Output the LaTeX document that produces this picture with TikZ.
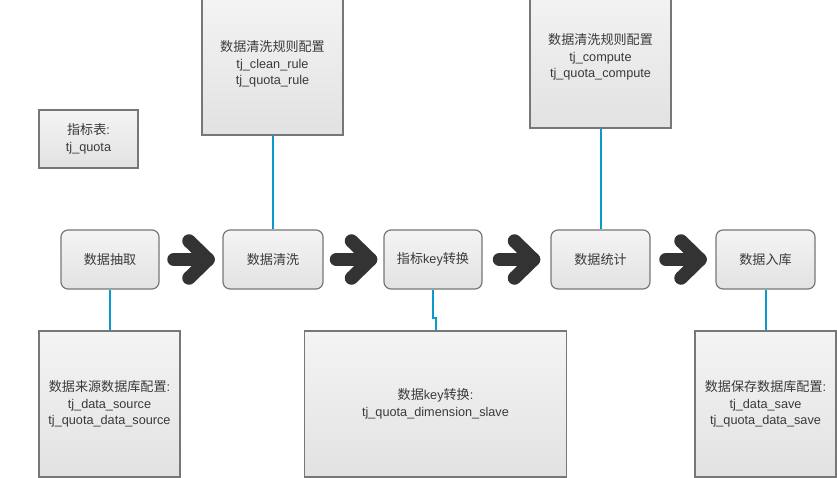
\documentclass[tikz,border=0pt]{standalone}
\usepackage{fontspec}
\setmainfont{Liberation Sans}
\newfontfamily\cjk{Noto Sans CJK SC}[Scale=1.03]
\usetikzlibrary{calc}
\definecolor{txt}{HTML}{3A3A3A}
\definecolor{edgegray}{HTML}{777777}
\definecolor{boxtop}{HTML}{F4F4F4}
\definecolor{boxbot}{HTML}{E2E2E2}
\definecolor{linkblue}{HTML}{0A9AD0}
\definecolor{arrowgray}{HTML}{333333}
\newcommand\zh[1]{{\cjk #1}}
% thick chevron arrow centred in the gap between two stages
\newcommand\flowarrow[2]{%
  \coordinate (m) at ($(#1.east)!0.5!(#2.west)$);
  \draw[fat] ([xshift=-17pt]m) -- ([xshift=17pt]m);
  \draw[fat] ([shift={(-2,-18.5)}]m) -- ([xshift=17pt]m) -- ([shift={(-2,18.5)}]m);
}

\begin{document}
\begin{tikzpicture}[x=1pt,y=-1pt,
  box/.style={draw=edgegray, line width=1.2pt, top color=boxtop, bottom color=boxbot,
    text=txt, align=center, inner sep=0pt, font=\fontsize{12.7}{16.5}\selectfont},
  stage/.style={box, rounded corners=7pt, minimum height=59pt},
  link/.style={draw=linkblue, line width=2pt},
  fat/.style={draw=arrowgray, line width=13.5pt, line cap=round, line join=round}]

\useasboundingbox (0,0) rectangle (837,478);
\clip (0,0) rectangle (837,478);

% pipeline stages
\node[stage, minimum width=98pt]  (extract) at (110,259.5)   {\zh{数据抽取}};
\node[stage, minimum width=100pt] (clean)   at (273,259.5)   {\zh{数据清洗}};
\node[stage, minimum width=98pt]  (keyconv) at (433,259.5)   {\zh{指标}key\zh{转换}};
\node[stage, minimum width=99pt]  (stat)    at (600.5,259.5) {\zh{数据统计}};
\node[stage, minimum width=99pt]  (store)   at (765.5,259.5) {\zh{数据入库}};

% configuration tables
\node[box, minimum width=99pt, minimum height=58pt] (quota) at (88.5,139)
  {\zh{指标表}:\\tj\_quota};
\node[box, minimum width=141pt, minimum height=142pt] (cleancfg) at (272.5,64)
  {\zh{数据清洗规则配置}\\tj\_clean\_rule\\tj\_quota\_rule};
\node[box, minimum width=141pt, minimum height=142pt] (computecfg) at (600.5,57)
  {\zh{数据清洗规则配置}\\tj\_compute\\tj\_quota\_compute};
\node[box, minimum width=141pt, minimum height=146pt] (sourcecfg) at (109.5,404)
  {\zh{数据来源数据库配置}:\\tj\_data\_source\\tj\_quota\_data\_source};
\node[box, minimum width=262pt, minimum height=146pt] (keydoc) at (435.5,404)
  {\zh{数据}key\zh{转换}:\\tj\_quota\_dimension\_slave};
\node[box, minimum width=141pt, minimum height=146pt] (savecfg) at (765.5,404)
  {\zh{数据保存数据库配置}:\\tj\_data\_save\\tj\_quota\_data\_save};

% links to configuration
\coordinate (jog) at (0,318);
\draw[link] (extract.south) -- (extract.south |- sourcecfg.north);
\draw[link] (clean.north) -- (clean.north |- cleancfg.south);
\draw[link] (keyconv.south) |- (jog -| keydoc.north) -- (keydoc.north);
\draw[link] (stat.north) -- (stat.north |- computecfg.south);
\draw[link] (store.south) -- (store.south |- savecfg.north);

% flow arrows
\flowarrow{extract}{clean}
\flowarrow{clean}{keyconv}
\flowarrow{keyconv}{stat}
\flowarrow{stat}{store}
\end{tikzpicture}
\end{document}
